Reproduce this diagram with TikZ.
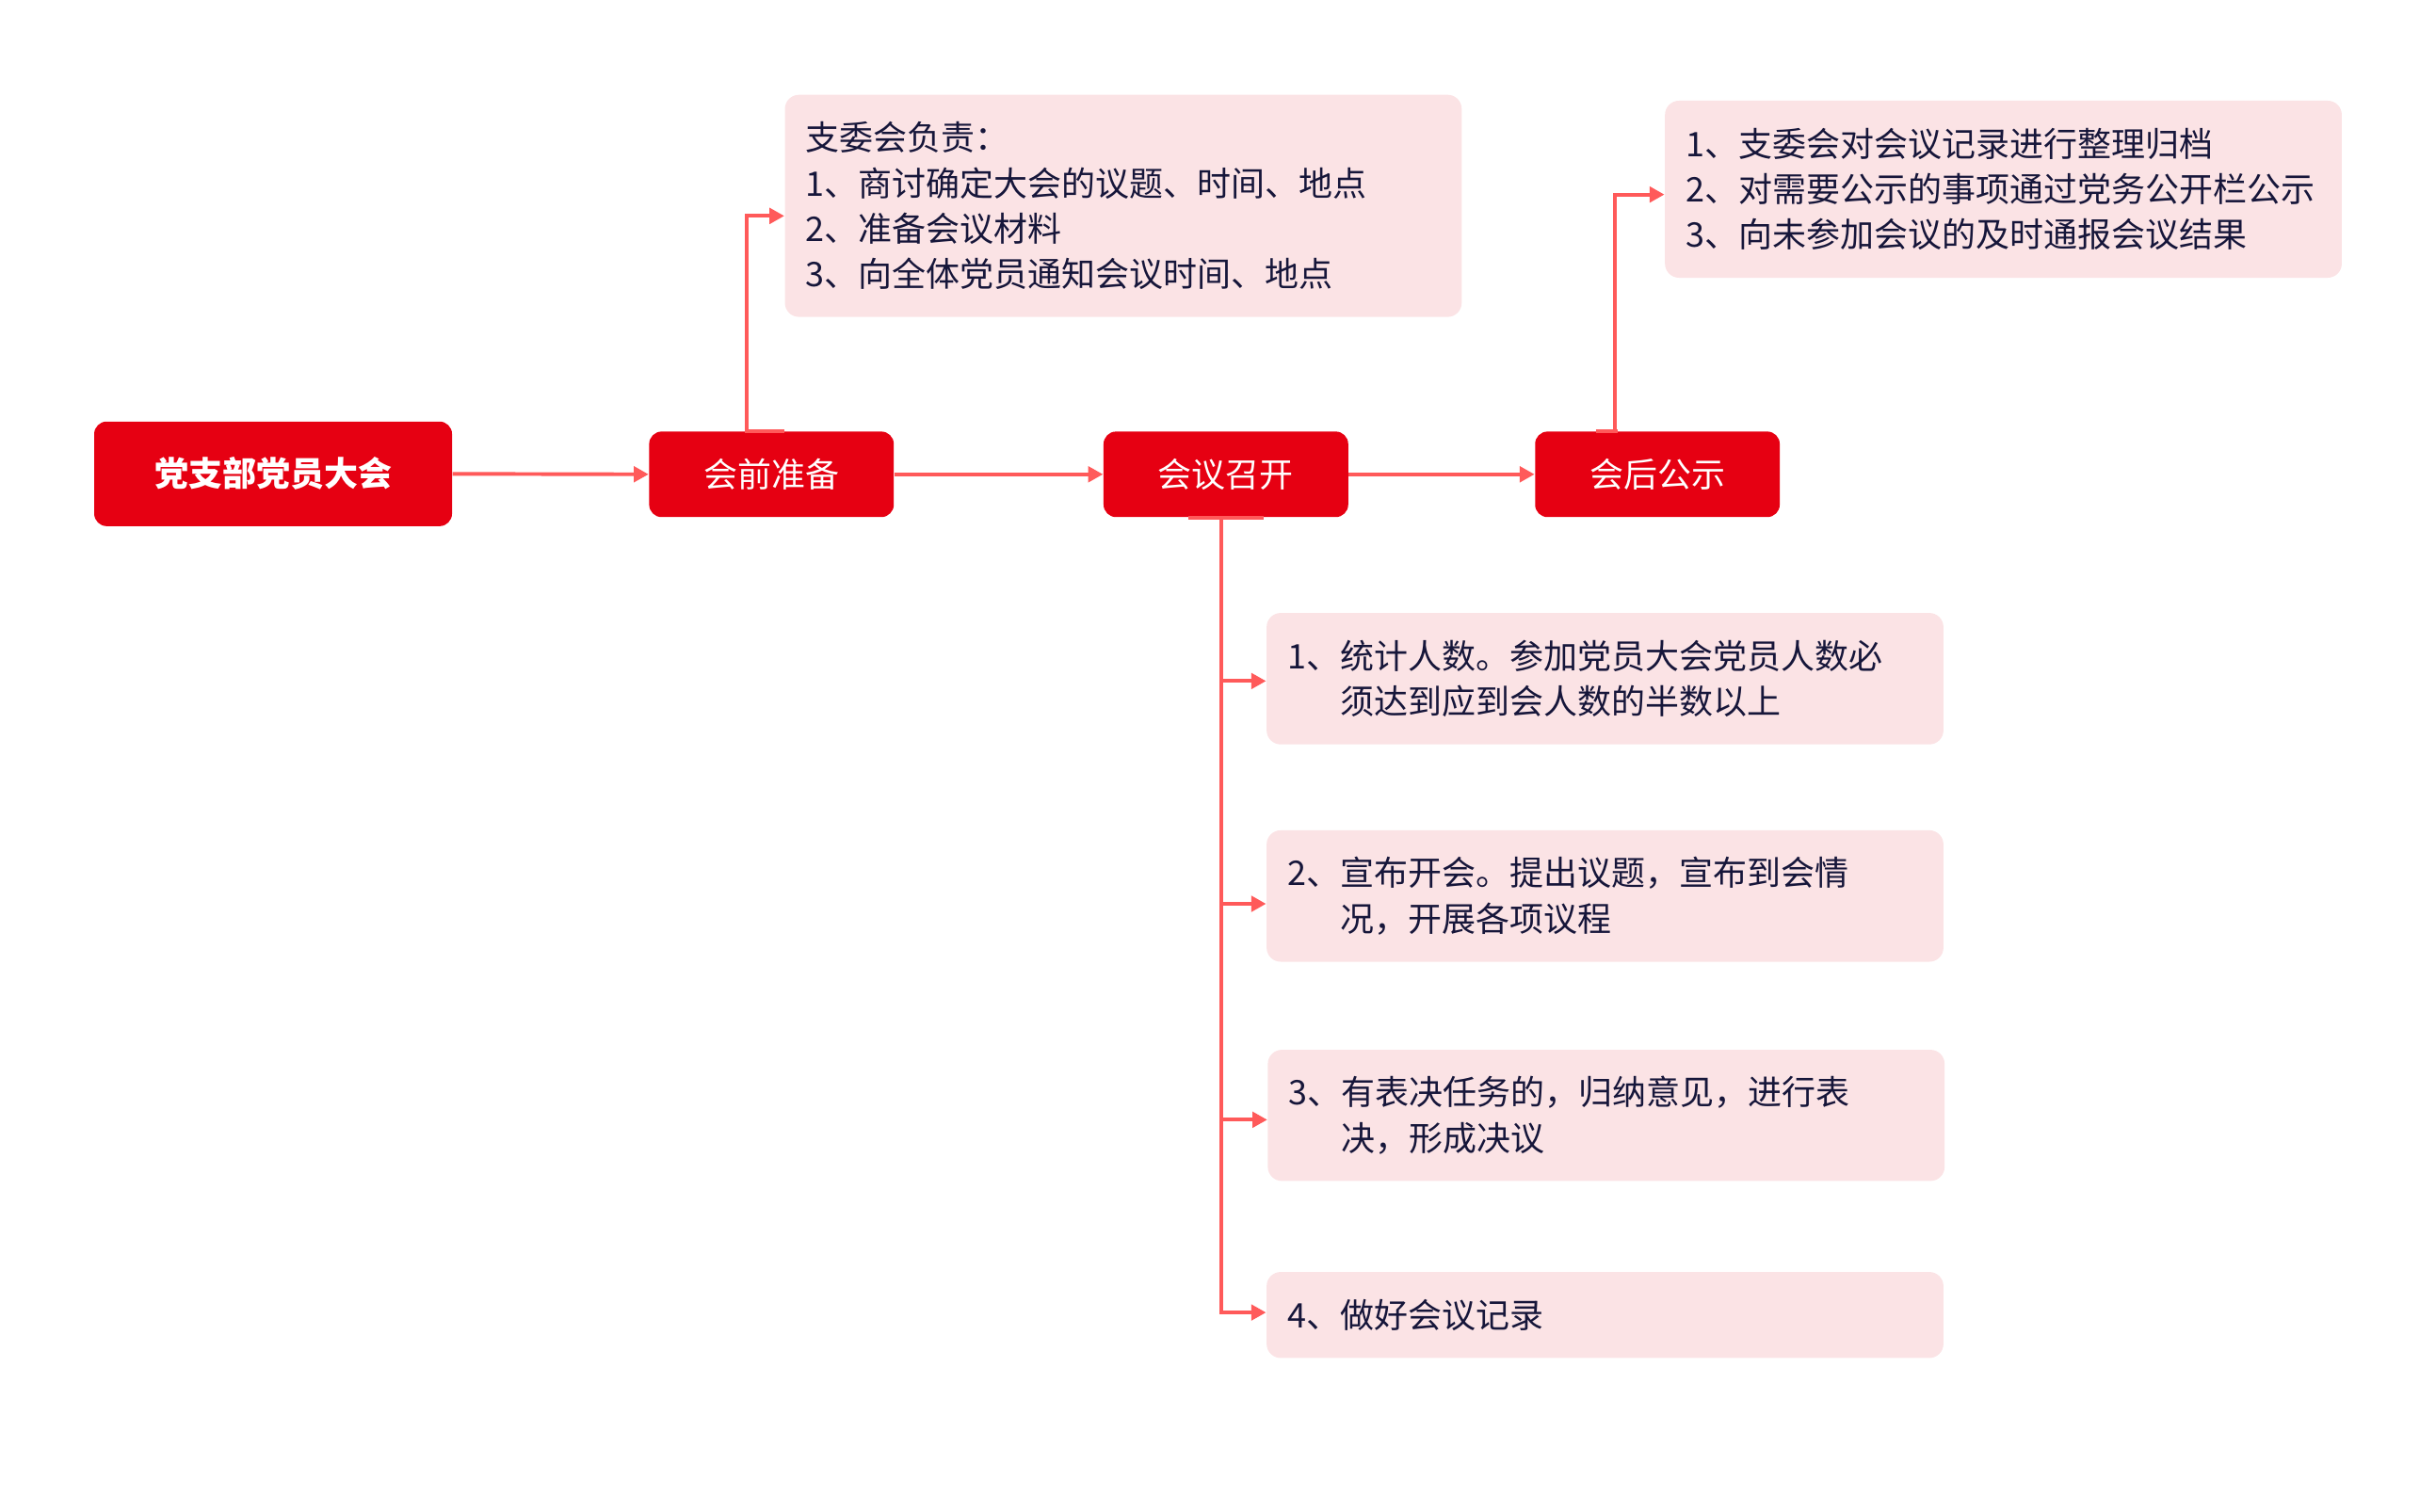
\documentclass[tikz,border=0pt]{standalone}
\usepackage{fontspec}
\setmainfont{Noto Sans CJK SC}
\usepackage{xcolor}
\usetikzlibrary{arrows.meta}

\definecolor{partyred}{HTML}{E60012}
\definecolor{linkred}{HTML}{FF5A5A}
\definecolor{notepink}{HTML}{FBE3E5}
\definecolor{notetext}{HTML}{16163A}
\newcommand{\subindent}{\hphantom{1、}}

\begin{document}
\begin{tikzpicture}[
  x=0.02cm, y=-0.02cm,
  every node/.style={font=\fontsize{12.35pt}{16.6pt}\selectfont},
  stage/.style={fill=partyred, text=white, rounded corners=0.16cm,
    minimum width=3.134cm, minimum height=1.096cm, inner sep=0pt},
  note/.style={fill=notepink, text=notetext, rounded corners=0.18cm,
    minimum width=8.67cm, text width=8.13cm, inner xsep=0.27cm, align=left},
  link/.style={draw=linkred, line width=1.35pt, -{Triangle[length=5.4pt,width=5.6pt]}},
  stub/.style={draw=linkred, line width=1.35pt}
  ]
\useasboundingbox (0,0) rectangle (1560,967.9);

% Main stages
\node[stage, minimum width=4.584cm, minimum height=1.34cm] (meeting) at (174.9,303.5) {\bfseries 党支部党员大会};
\node[stage] (prep) at (494.05,303.8) {会前准备};
\node[stage] (hold) at (785.05,303.8) {会议召开};
\node[stage] (publish) at (1061.4,303.8) {会后公示};

% Notes
\node[note, minimum height=2.846cm] (prepnote) at (719.35,131.85)
  {支委会负责：\\1、商讨确定大会的议题、时间、地点\\2、准备会议材料\\3、向全体党员通知会议时间、地点};
\node[note, minimum height=2.268cm] (pubnote) at (1282.95,121.2)
  {1、支委会对会议记录进行整理归档\\2、对需要公示的事项通过党务公开栏公示\\3、向未参加会议的及时通报会议结果};
\node[note, minimum height=1.684cm] (step1) at (1027.85,434.7)
  {1、统计人数。参加党员大会党员人数必\\\subindent 须达到应到会人数的半数以上};
\node[note, minimum height=1.684cm] (step2) at (1027.85,573.9)
  {2、宣布开会。提出议题，宣布到会情\\\subindent 况，开展各项议程};
\node[note, minimum height=1.68cm] (step3) at (1028.6,714.4)
  {3、有表决任务的，归纳意见，进行表\\\subindent 决，形成决议};
\node[note, minimum height=1.102cm] (step4) at (1027.85,842.25)
  {4、做好会议记录};

% Links
\draw[link] (meeting.east) -- (prep.west);
\draw[link] (prep.east) -- (hold.west);
\draw[link] (hold.east) -- (publish.west);
\draw[stub] ([xshift=-0.34cm]prep.north) -- ([xshift=0.17cm]prep.north);
\draw[link] ([xshift=-0.317cm]prep.north) |- ([yshift=-0.129cm]prepnote.west);
\draw[stub] ([xshift=-0.79cm]publish.north) -- ([xshift=-0.51cm]publish.north);
\draw[link] ([xshift=-0.542cm]publish.north) |- ([yshift=-0.068cm]pubnote.west);
\draw[stub] ([xshift=-0.477cm]hold.south) -- ([xshift=0.489cm]hold.south);
\foreach \s/\d in {step1/-0.03cm, step2/-0.1cm, step3/-0.056cm, step4/0.032cm}
  \draw[link] ([xshift=-0.057cm]hold.south) |- ([yshift=\d]\s.west);

\end{tikzpicture}
\end{document}
